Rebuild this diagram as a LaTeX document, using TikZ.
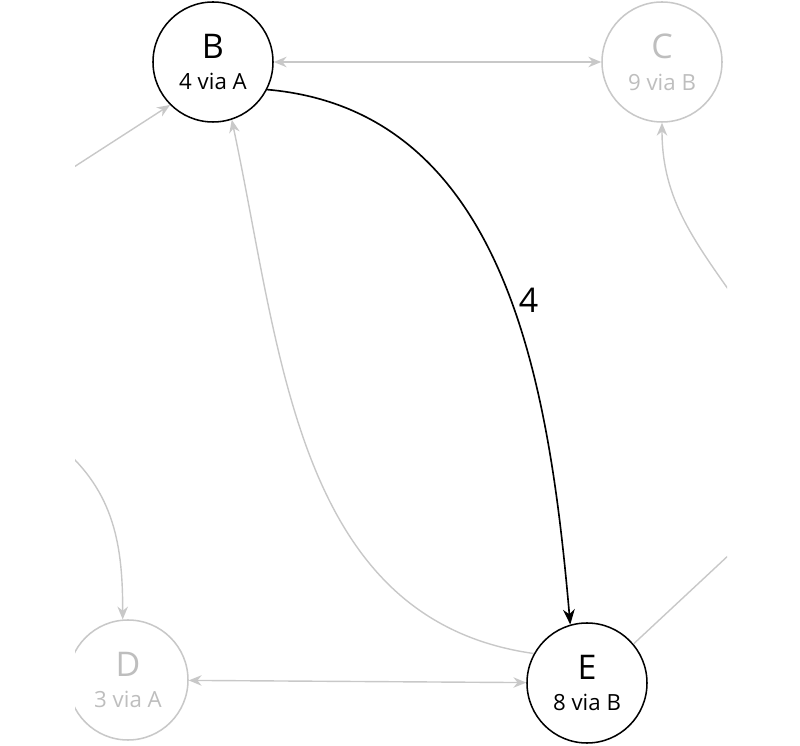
\documentclass[tikz,border=0pt]{standalone}
\usepackage{fontspec}
\setmainfont{Open Sans}
\usetikzlibrary{arrows.meta}
\definecolor{faded}{RGB}{200,200,200}
\definecolor{fadedtext}{RGB}{190,190,190}
\tikzset{
	router/.style={circle, draw=black, line width=1.3pt, minimum size=3.6cm, inner sep=0pt, align=center, fill=white, font=\fontsize{19}{27}\selectfont},
	idle/.style={router, draw=faded, text=fadedtext},
	link/.style={line width=1.2pt, draw=faded, -{Stealth[length=11pt,width=9pt]}},
	both/.style={link, {Stealth[length=11pt,width=9pt]}-{Stealth[length=11pt,width=9pt]}},
	active/.style={line width=1.4pt, draw=black, -{Stealth[length=13pt,width=10pt]}}
}
\newcommand{\rname}[2]{{\fontsize{29}{27}\selectfont #1}\\#2}
\begin{document}
\begin{tikzpicture}[x=0.03cm,y=0.03cm]
	\useasboundingbox (0,0) rectangle (800,746);
	\clip (75,0) rectangle (727,746);
	
	%routers
	\node[router] (B) at (213,684) {\rname{B}{4 via A}};
	\node[idle] (C) at (662,684) {\rname{C}{9 via B}};
	\node[idle] (D) at (128,66) {\rname{D}{3 via A}};
	\node[router] (E) at (587,63) {\rname{E}{8 via B}};
	
	%loose ends outside the view
	\coordinate (fromA) at (60,570);
	\coordinate (toD) at (60,300);
	\coordinate (toC) at (740,440);
	\coordinate (fromE) at (745,206);
	
	%faded links
	\draw[both] (B) -- (C);
	\draw[both] (D) -- (E);
	\draw[link] (fromA) -- (B.225);
	\draw[link] (toD) to[out=-40,in=90] (D.95);
	\draw[link] (toC) to[out=125,in=-90] (C.-90);
	\draw[link,-] (E.40) -- (fromE);
	\draw[link] (E.151) to[out=172,in=-78] (B.-72);
	
	%active link
	\draw[active] (B.-27) to[out=-5,in=95] node[pos=0.54,right=3pt,font=\fontsize{29}{30}\selectfont] (cost) {4} (E.106);
\end{tikzpicture}
\end{document}
